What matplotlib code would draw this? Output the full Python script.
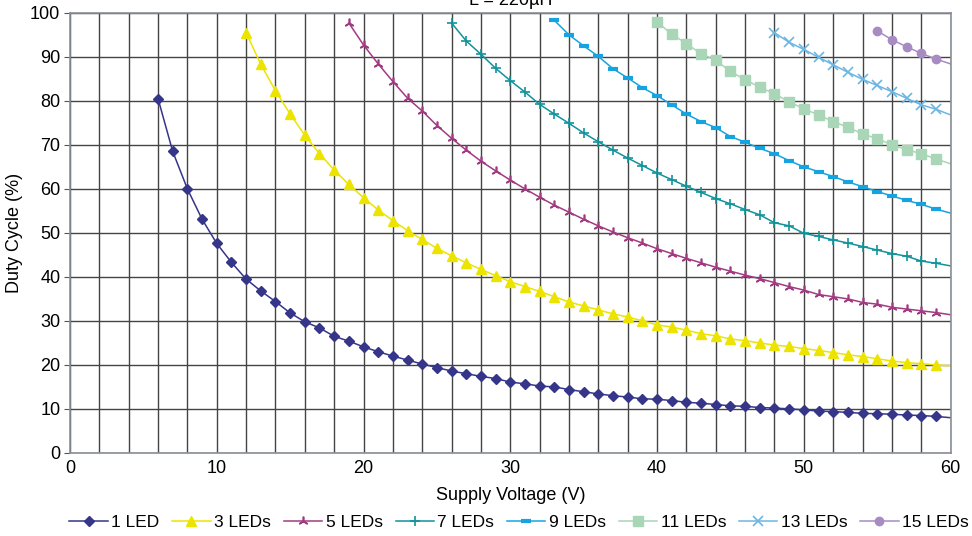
import matplotlib
matplotlib.use('Agg')
import matplotlib.pyplot as plt
from matplotlib.ticker import MultipleLocator

plt.rcParams['font.family'] = ['Liberation Sans', 'DejaVu Sans']

# supply voltage (V) for each series, 1 V steps
v1 = list(range(6, 61))
v3 = list(range(12, 61))
v5 = list(range(19, 61))
v7 = list(range(26, 61))
v9 = list(range(33, 61))
v11 = list(range(40, 61))
v13 = list(range(48, 61))
v15 = list(range(55, 61))

# duty cycle (%)
d1 = [80.5, 68.5, 60.0, 53.1, 47.6, 43.3, 39.5, 36.8, 34.4, 31.8, 29.8, 28.4, 26.5, 25.4, 24.1,
      23.0, 22.0, 21.1, 20.2, 19.4, 18.6, 18.0, 17.4, 16.9, 16.1, 15.7, 15.2, 15.0, 14.4, 13.9,
      13.4, 13.0, 12.7, 12.3, 12.2, 11.9, 11.5, 11.3, 11.0, 10.7, 10.6, 10.3, 10.2, 10.0, 9.8,
      9.5, 9.4, 9.2, 9.0, 8.9, 8.8, 8.6, 8.5, 8.3, 8.0]
d3 = [95.5, 88.3, 82.3, 77.0, 72.2, 68.0, 64.3, 61.0, 58.0, 55.2, 52.8, 50.5, 48.5, 46.5, 44.8,
      43.2, 41.7, 40.3, 38.9, 37.8, 36.7, 35.5, 34.3, 33.4, 32.5, 31.6, 30.9, 30.0, 29.1, 28.6,
      27.9, 27.1, 26.6, 25.9, 25.5, 25.0, 24.5, 24.2, 23.7, 23.3, 22.8, 22.3, 21.9, 21.4, 20.9,
      20.5, 20.3, 20.0, 19.8]
d5 = [97.7, 92.7, 88.4, 84.4, 80.6, 77.7, 74.4, 71.5, 68.8, 66.3, 64.1, 62.0, 60.0, 58.1, 56.3,
      54.7, 53.1, 51.6, 50.2, 48.9, 47.7, 46.4, 45.3, 44.2, 43.2, 42.2, 41.3, 40.4, 39.6, 38.7,
      37.8, 37.0, 36.0, 35.5, 35.0, 34.2, 33.8, 33.1, 32.7, 32.3, 31.9, 31.4]
d7 = [97.7, 93.6, 90.6, 87.4, 84.6, 82.0, 79.2, 77.0, 74.9, 72.7, 70.7, 68.8, 67.0, 65.3, 63.6,
      62.1, 60.6, 59.2, 57.8, 56.6, 55.3, 54.1, 52.3, 51.6, 49.9, 49.2, 48.4, 47.7, 46.9, 46.1,
      45.3, 44.7, 43.6, 43.1, 42.5]
d9 = [98.3, 95.0, 92.5, 90.1, 87.3, 85.2, 83.0, 81.2, 79.1, 77.0, 75.3, 73.9, 71.9, 70.6, 69.2,
      68.0, 66.4, 65.0, 63.9, 62.8, 61.6, 60.5, 59.4, 58.4, 57.4, 56.5, 55.4, 54.5]
d11 = [97.9, 95.2, 93.0, 90.7, 89.2, 86.7, 84.8, 83.1, 81.6, 79.8, 78.2, 76.8, 75.3, 74.0, 72.5,
       71.4, 70.0, 68.9, 68.0, 66.8, 65.7]
d13 = [95.5, 93.3, 91.7, 89.9, 88.2, 86.5, 84.9, 83.5, 82.1, 80.6, 79.1, 78.1, 76.8]
d15 = [95.9, 93.9, 92.3, 90.8, 89.5, 88.4]

labels = ['1 LED', '3 LEDs', '5 LEDs', '7 LEDs', '9 LEDs', '11 LEDs', '13 LEDs', '15 LEDs']

fig = plt.figure(figsize=(9.72, 5.36), dpi=100)
ax = fig.add_axes([0.072, 0.155, 0.906, 0.821])

ax.plot(v1, d1, color='#35358a', lw=1.1, marker='D', ms=5, markevery=slice(0, -1), label=labels[0])
ax.plot(v3, d3, color='#ece400', lw=1.1, marker='^', ms=7.5, markevery=slice(0, -1), label=labels[1])
ax.plot(v5, d5, color='#a23a82', lw=1.1, marker=(3, 2, 0), ms=7, mew=1.2, markevery=slice(0, -1), label=labels[2])
ax.plot(v7, d7, color='#12929a', lw=1.1, marker='+', ms=7, mew=1.2, markevery=slice(0, -1), label=labels[3])
ax.plot(v9, d9, color='#16a4e0', lw=1.1, marker='_', ms=7, mew=3, markevery=slice(0, -1), label=labels[4])
ax.plot(v11, d11, color='#a8d6b6', lw=1.1, marker='s', ms=7, markevery=slice(0, -1), label=labels[5])
ax.plot(v13, d13, color='#6cb6e2', lw=1.1, marker='x', ms=7, mew=1.2, markevery=slice(0, -1), label=labels[6])
ax.plot(v15, d15, color='#a68cc2', lw=1.1, marker='o', ms=6, markevery=slice(0, -1), label=labels[7])

ax.set_xlim(0, 60)
ax.set_ylim(0, 100)
ax.xaxis.set_major_locator(MultipleLocator(10))
ax.xaxis.set_minor_locator(MultipleLocator(2))
ax.yaxis.set_major_locator(MultipleLocator(10))
ax.grid(True, which='both', color='#444444', lw=1.0)
ax.set_axisbelow(True)

ax.tick_params(axis='x', which='both', length=0, labelsize=13, pad=5)
ax.tick_params(axis='y', length=4, color='#555555', labelsize=13, pad=3)
for s in ax.spines.values():
    s.set_color('#8a8f98')
    s.set_linewidth(1.2)

ax.set_xlabel('Supply Voltage (V)', fontsize=13, labelpad=7)
ax.set_ylabel('Duty Cycle (%)', fontsize=13, labelpad=5)

# chart title, cut off by the top edge as in the source image
fig.text(0.525, 0.991, 'L = 220µH', fontsize=13, ha='center', va='baseline')

ax.legend(loc='center', bbox_to_anchor=(0.51, -0.157), ncol=8, frameon=False, fontsize=12.5,
          handlelength=2.2, handletextpad=0.2, columnspacing=0.75, borderaxespad=0)

fig.savefig('out.png', dpi=100)
